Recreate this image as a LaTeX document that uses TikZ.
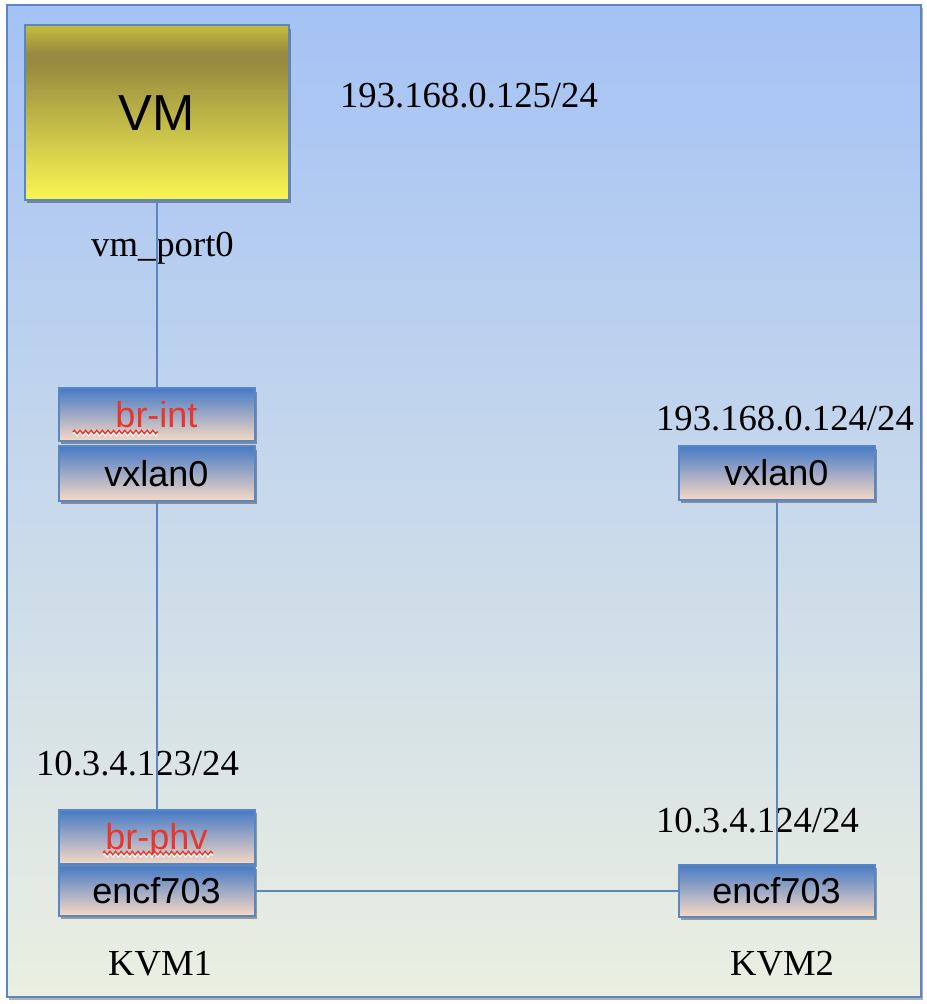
\documentclass[tikz,border=0pt]{standalone}
\usepackage{fontspec}
\setmainfont{Liberation Serif}
\newfontfamily\arialf{Liberation Sans}
\usetikzlibrary{shadows,decorations.pathmorphing}
\definecolor{bgtop}{RGB}{164,194,245}
\definecolor{bgbot}{RGB}{235,239,225}
\definecolor{bordc}{RGB}{90,134,194}
\definecolor{boxtop}{RGB}{70,122,198}
\definecolor{boxbot}{RGB}{246,217,196}
\definecolor{vmtop}{RGB}{196,189,60}
\definecolor{vmdark}{RGB}{150,139,64}
\definecolor{vmbot}{RGB}{251,246,83}
\definecolor{redlbl}{RGB}{232,54,44}
\pgfdeclareverticalshading{vmshade}{100bp}{color(0bp)=(vmbot); color(25bp)=(vmbot); color(64bp)=(vmdark); color(67bp)=(vmdark); color(75bp)=(vmtop); color(100bp)=(vmtop)}
\begin{document}
\begin{tikzpicture}[x=0.75pt,y=-0.75pt,
  ifbox/.style={draw=bordc, line width=1.5pt, top color=boxtop, bottom color=boxbot,
    minimum width=147pt, inner sep=0pt, text height=19.4pt, text depth=0pt,
    font=\arialf\fontsize{27}{30}\selectfont,
    drop shadow={shadow xshift=1.5pt, shadow yshift=-2.5pt, opacity=0.35, fill=black}},
  iplbl/.style={anchor=base, inner sep=0pt, font=\fontsize{27.5}{30}\selectfont},
  conn/.style={draw=bordc, line width=1.5pt},
  wavyred/.style={draw=redlbl, line width=1pt, decorate, decoration={zigzag, amplitude=1.3pt, segment length=4.2pt}},
  wavywhite/.style={draw=white, line width=1pt, decorate, decoration={zigzag, amplitude=1.3pt, segment length=4.2pt}}]
\useasboundingbox (0,0) rectangle (926,1004);
% background panel
\draw[draw=bordc, line width=1.5pt, top color=bgtop, bottom color=bgbot,
  drop shadow={shadow xshift=1.5pt, shadow yshift=-2pt, opacity=0.3, fill=black}]
  (7,5) rectangle (921,997);
% VM
\node[draw=bordc, line width=1.5pt, shading=vmshade, minimum width=198pt, minimum height=131pt,
  inner sep=0pt, font=\arialf\fontsize{38}{42}\selectfont, text height=27.4pt, text depth=0pt,
  drop shadow={shadow xshift=1.5pt, shadow yshift=-2.5pt, opacity=0.35, fill=black}]
  (vm) at (156.5,112.5) {VM};
% KVM1 interfaces
\node[ifbox, minimum height=39.5pt, text=redlbl] (brint) at (156.5,414.5) {br-int};
\node[ifbox, minimum height=41pt] (vx1) at (156.5,473.5) {vxlan0};
\node[ifbox, minimum height=40.5pt, text=redlbl] (brphv) at (156.5,837) {br-phv};
\node[ifbox, minimum height=37.5pt] (enc1) at (156.5,890.5) {encf703};
% KVM2 interfaces
\node[ifbox, minimum height=40.5pt] (vx2) at (776.5,473) {vxlan0};
\node[ifbox, minimum height=39pt] (enc2) at (776.5,890.5) {encf703};
% spell-check underlines
\draw[wavywhite] (73,434) -- (158,434);
\draw[wavyred] (73,432) -- (158,432);
\draw[wavywhite] (103,855) -- (213,855);
\draw[wavyred] (103,853) -- (213,853);
% labels
\node[iplbl] (ip1) at (469,107) {193.168.0.125/24};
\node[iplbl] (vmport) at (162.5,256.5) {vm\_port0};
\node[iplbl] (ip2) at (785,430.5) {193.168.0.124/24};
\node[iplbl] (ip3) at (137.5,775.5) {10.3.4.123/24};
\node[iplbl] (ip4) at (757.5,832.5) {10.3.4.124/24};
\node[iplbl] (kvm1) at (160,975.5) {KVM1};
\node[iplbl] (kvm2) at (782,975.5) {KVM2};
% connectors
\draw[conn] (vm.south) -- (brint.north);
\draw[conn] (vx1.south) -- (brphv.north);
\draw[conn] (vx2.south) -- (enc2.north);
\draw[conn] (enc1.east) -- (enc2.west);
\end{tikzpicture}
\end{document}
